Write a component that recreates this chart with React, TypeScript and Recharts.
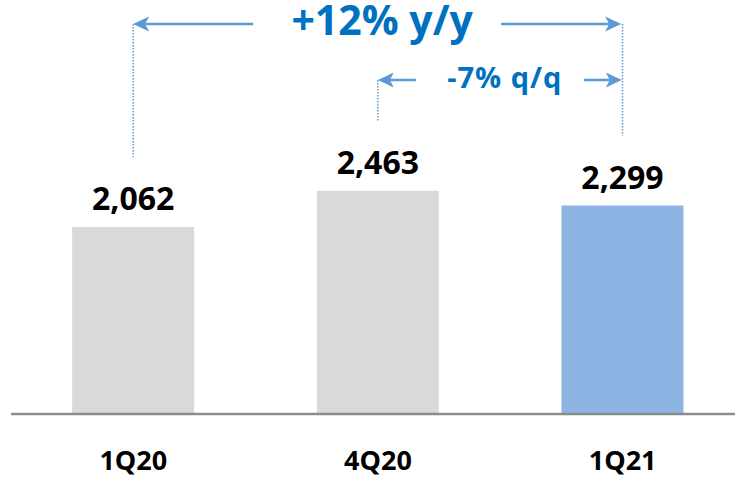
import { Bar, BarChart, Cell, LabelList, XAxis, YAxis } from 'recharts';

const quarters = ['1Q20', '4Q20', '1Q21'];
const revenue = [2062, 2463, 2299];
const isCurrent = [false, false, true];

// growth callouts: bar index pairs and their text
const changeText = ['+12% y/y', '-7% q/q'];
const changeFrom = [0, 1];
const changeTo = [2, 2];

const FONT = "'Open Sans', Lato, sans-serif";
const ARROW = '#5B9BD5';
const CALLOUT = '#0070C0';
const LEADER_GAP = 70;

const CALLOUT_STYLE = [
  { row: 24, size: 41, spacing: 0, baseline: 11, arrowLen: 120 },
  { row: 80, size: 29, spacing: 1, baseline: 8, arrowLen: 38 },
];

const data = quarters.map((quarter, i) => ({
  quarter,
  value: revenue[i],
  current: isCurrent[i],
}));

function Arrow({ tail, tip, y }: { tail: number; tip: number; y: number }) {
  const dir = tip > tail ? 1 : -1;
  const head = 16;
  return (
    <g>
      <line
        x1={tail}
        y1={y}
        x2={tip - dir * (head - 4)}
        y2={y}
        stroke={ARROW}
        strokeWidth={2.5}
      />
      <polygon
        points={[
          `${tip},${y}`,
          `${tip - dir * head},${y - 7.5}`,
          `${tip - dir * (head - 4)},${y}`,
          `${tip - dir * head},${y + 7.5}`,
        ].join(' ')}
        fill={ARROW}
      />
    </g>
  );
}

function BarLabel(props: any) {
  const x = Number(props.x);
  const y = Number(props.y);
  const width = Number(props.width);
  const index = Number(props.index);
  const cx = x + width / 2;
  const step = width * 2;

  // leader goes up to the highest callout row this bar takes part in
  const rows = changeText.map((_, k) =>
    changeFrom[k] === index || changeTo[k] === index ? CALLOUT_STYLE[k].row : Infinity,
  );
  const leaderTop = Math.min(...rows);

  return (
    <g>
      <text
        x={cx}
        y={y - 17}
        textAnchor="middle"
        fontFamily={FONT}
        fontWeight={700}
        fontSize={32}
        fill="#000"
      >
        {Number(props.value).toLocaleString('en-US')}
      </text>
      {leaderTop !== Infinity && (
        <line
          x1={cx}
          y1={leaderTop}
          x2={cx}
          y2={y - LEADER_GAP}
          stroke={ARROW}
          strokeWidth={1.5}
          strokeDasharray="1.5 1.5"
        />
      )}
      {changeText.map((text, k) => {
        if (changeFrom[k] !== index) return null;
        const s = CALLOUT_STYLE[k];
        const x0 = cx;
        const x1 = cx + (changeTo[k] - changeFrom[k]) * step;
        return (
          <g key={text}>
            <Arrow tail={x0 + s.arrowLen} tip={x0} y={s.row} />
            <Arrow tail={x1 - s.arrowLen} tip={x1} y={s.row} />
            <text
              x={(x0 + x1) / 2 + 5}
              y={s.row + s.baseline}
              textAnchor="middle"
              fontFamily={FONT}
              fontWeight={700}
              fontSize={s.size}
              letterSpacing={s.spacing}
              fill={CALLOUT}
            >
              {text}
            </text>
          </g>
        );
      })}
    </g>
  );
}

function QuarterTick(props: any) {
  const { x, y, payload } = props;
  return (
    <text
      x={x}
      y={y + 48}
      textAnchor="middle"
      fontFamily={FONT}
      fontWeight={700}
      fontSize={27}
      fill="#000"
    >
      {payload.value}
    </text>
  );
}

export default function App() {
  return (
    <div
      style={{
        position: 'absolute',
        left: 0,
        top: 0,
        width: 735,
        height: 479,
        overflow: 'hidden',
        background: '#fff',
      }}
    >
      <BarChart
        width={745}
        height={479}
        data={data}
        margin={{ top: 0, right: 0, bottom: 0, left: 11 }}
        barCategoryGap="25%"
      >
        <XAxis
          dataKey="quarter"
          height={65}
          tickLine={false}
          axisLine={{ stroke: '#8C8C8C', strokeWidth: 2.5 }}
          tick={<QuarterTick />}
          interval={0}
        />
        <YAxis hide domain={[0, 4565]} />
        <Bar dataKey="value" isAnimationActive={false}>
          {data.map((d) => (
            <Cell key={d.quarter} fill={d.current ? '#8EB4E3' : '#D9D9D9'} />
          ))}
          <LabelList dataKey="value" content={<BarLabel />} />
        </Bar>
      </BarChart>
    </div>
  );
}
